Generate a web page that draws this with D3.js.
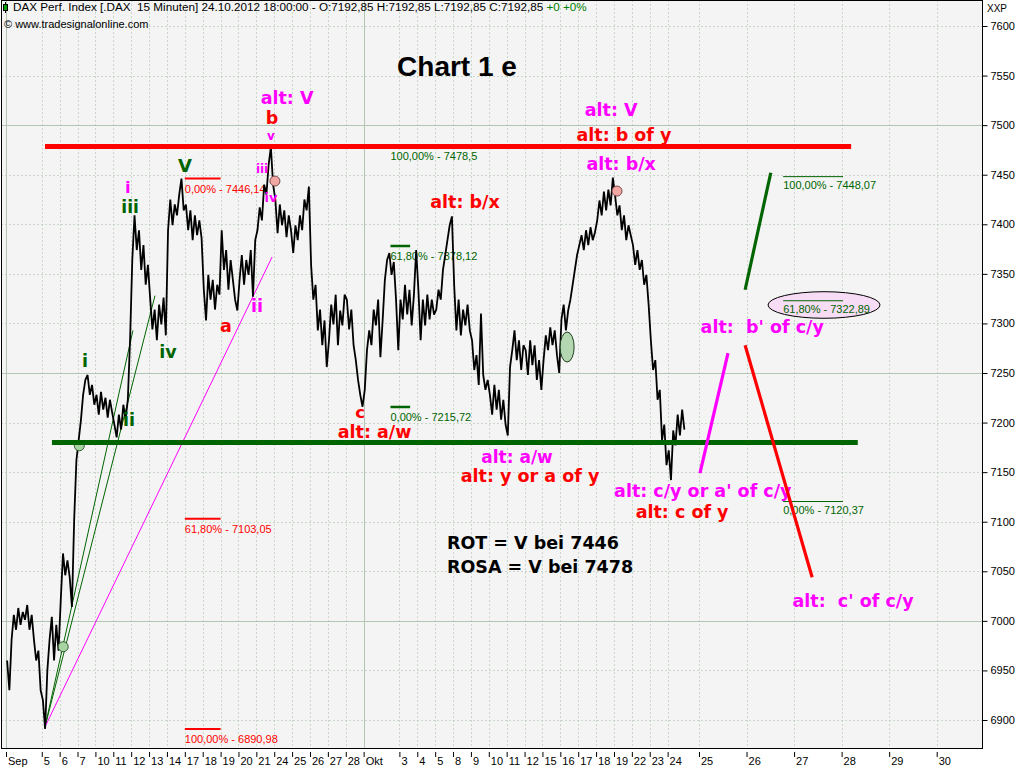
<!DOCTYPE html>
<html><head><meta charset="utf-8">
<script src="https://cdn.jsdelivr.net/npm/d3@7/dist/d3.min.js"></script>
<style>body{margin:0;background:#fff;}svg{display:block}</style>
</head><body><svg id="c" width="1024" height="768"></svg>
<script>
// ---------- data ----------
const tickLabels = ["Sep","5","6","7","10","11","12","13","14","17","18","19","20","21","24","25","26","27","28","Okt","3","4","5","8","9","10","11","12","15","16","17","18","19","22","23","24","25","26","27","28","29","30"];
const tickIndex  = [-2,0,1,2,3,4,5,6,7,8,9,10,11,12,13,14,15,16,17,18,20,21,22,23,24,25,26,27,28,29,30,31,32,33,34,35,37,38,39,40,41,42];
const monthStarts = [-2, 18];
const yTicks = [6900,6950,7000,7050,7100,7150,7200,7250,7300,7350,7400,7450,7500,7550,7600];
const yMajor = [7000,7250,7500];

// trading-day index of each session (Sep 3 = -2 ... Oct 24 = 35)
const sessionIndex = [-2,-1,0,1,2,3,4,5,6,7,8,9,10,11,12,13,14,15,16,17,18,19,20,21,22,23,24,25,26,27,28,29,30,31,32,33,34,35];
// intraday swing prices per session
const sessionPrices = [
 [6960,6930,6981,7006,6991,7013,6996,7009],
 [7001,7016,6991,7006,6981,6960,6970,6930],
 [6920,6891,6950,6981,7004,6960,6996,6970],
 [7021,7068,7046,7061,7044,7014,7102,7162],
 [7182,7202,7228,7243,7248,7228,7238,7218],
 [7228,7208,7231,7213,7225,7205,7223,7210],
 [7198,7185,7208,7193,7218,7203,7223,7283],
 [7364,7409,7374,7394,7354,7379,7339,7359],
 [7325,7294,7314,7283,7319,7299,7326,7288],
 [7394,7425,7399,7420,7409,7430,7446,7414],
 [7420,7394,7414,7384,7409,7389,7404,7386],
 [7334,7303,7349,7324,7344,7314,7339,7329],
 [7394,7354,7374,7334,7364,7344,7324,7313],
 [7344,7369,7339,7364,7349,7374,7327,7384],
 [7394,7417,7404,7440,7430,7460,7478,7440],
 [7425,7391,7420,7399,7414,7387,7409,7394],
 [7371,7399,7384,7409,7394,7425,7414,7438],
 [7359,7324,7339,7293,7314,7278,7303,7256],
 [7283,7319,7299,7329,7278,7313,7298,7329],
 [7324,7294,7314,7278,7263,7243,7228,7216],
 [7233,7273,7293,7278,7314,7298,7324,7266],
 [7303,7344,7364,7371,7349,7362,7324,7273],
 [7324,7304,7339,7309,7334,7298,7329,7374],
 [7334,7283,7324,7298,7329,7304,7324,7309],
 [7314,7334,7324,7354,7369,7384,7399,7408],
 [7339,7293,7324,7288,7314,7298,7319,7293],
 [7283,7253,7268,7238,7310,7248,7233,7243],
 [7228,7208,7238,7213,7233,7203,7223,7198],
 [7187,7256,7273,7293,7263,7283,7253,7278],
 [7273,7248,7283,7258,7278,7243,7263,7233],
 [7263,7288,7273,7296,7278,7293,7268,7250],
 [7304,7319,7293,7313,7324,7339,7354,7369],
 [7379,7389,7374,7394,7379,7397,7384,7392],
 [7404,7424,7409,7433,7414,7435,7419,7447],
 [7429,7409,7419,7394,7409,7384,7399,7389],
 [7379,7359,7374,7354,7364,7339,7349,7319],
 [7283,7253,7263,7223,7233,7182,7198,7157],
 [7172,7142,7192,7177,7208,7187,7213,7192.85]
];

// Fibonacci markers
const fibRedLevels = [7446.14, 7103.05, 6890.98];
const fibRedPct = ["0,00%","61,80%","100,00%"];
const fibRedSpan = [8.0, 10.0];
const fibMidLevels = [7478.5, 7378.12, 7215.72];
const fibMidPct = ["100,00%","61,80%","0,00%"];
const fibMidSpan = [19.5, 20.6];
const fibRightLevels = [7448.07, 7322.89, 7120.37];
const fibRightPct = ["100,00%","61,80%","0,00%"];
const fibRightSpan = [38.77, 40.03];

// horizontal support / resistance: [price, fromIdx, toIdx, color]
const hLines = [[7478.5, 0.18, 40.20, "#ff0000"], [7180, 0.57, 40.34, "#006400"]];
// trend lines: [idx1, p1, idx2, p2, color, width]
const trendLines = [
 [0.18, 6893, 5.10, 7293, "#006400", 1],
 [0.18, 6893, 6.33, 7328, "#006400", 1],
 [0.18, 6893, 12.88, 7367, "#ff00ff", 1],
 [37.02, 7149, 37.61, 7270, "#ff00ff", 3.2],
 [37.97, 7278, 39.38, 7044, "#ff0000", 3.2],
 [37.97, 7334, 38.51, 7452, "#006400", 3.2]
];
// markers: [idx, price, rx, ry, fill, stroke]
const markers = [
 [2.10, 7176.6, 5, 5, "#a9d3a2", "#2e5e2e"],
 [1.20, 6973.9, 5, 5, "#a9d3a2", "#2e5e2e"],
 [13.04, 7443.6, 5, 5, "#f1a7a4", "#7a4a4a"],
 [32.17, 7433.5, 5, 5, "#f1a7a4", "#7a4a4a"],
 [29.38, 7276.2, 7, 15, "#b3d7b0", "#1e3e1e"],
 [39.63, 7318.6, 56, 13.3, "#f6dcf4", "#000000"]
];
// annotations: [text, idx, price, color, size, anchor]
const M = "#ff00ff", Rd = "#ff0000", G = "#006400", K = "#000000";
const notes = [
 ["alt: V", 13.72, 7521, M, 17.5, "middle"],
 ["b", 12.88, 7501, Rd, 17.5, "middle"],
 ["v", 12.82, 7485, M, 12, "middle"],
 ["iii", 12.32, 7452, M, 12, "middle"],
 ["iv", 12.82, 7422.5, M, 13, "middle"],
 ["V", 8.01, 7452.7, G, 18, "middle"],
 ["i", 4.82, 7432, M, 16.5, "middle"],
 ["iii", 4.94, 7411, G, 17, "middle"],
 ["a", 10.30, 7291.3, Rd, 17.5, "middle"],
 ["ii", 12.04, 7311.5, M, 17.5, "middle"],
 ["iv", 7.06, 7265.1, G, 17.5, "middle"],
 ["i", 2.42, 7256, G, 17.5, "middle"],
 ["ii", 4.88, 7196.5, G, 17.5, "middle"],
 ["c", 17.80, 7205, Rd, 16.5, "middle"],
 ["alt: a/w", 18.61, 7184, Rd, 17.5, "middle"],
 ["alt: b/x", 23.67, 7416.4, Rd, 17.5, "middle"],
 ["alt: V", 31.84, 7509.2, M, 17.5, "middle"],
 ["alt: b of y", 32.56, 7484, Rd, 17.5, "middle"],
 ["alt: b/x", 32.40, 7454.7, M, 17.5, "middle"],
 ["alt: a/w", 26.58, 7159, M, 17, "middle"],
 ["alt: y or a of y", 27.31, 7140, Rd, 17.5, "middle"],
 ["alt: c/y or a' of c/y", 37.08, 7124.9, M, 17.5, "middle"],
 ["alt: c of y", 35.81, 7103.7, Rd, 17.5, "middle"],
 ["alt:  b' of c/y", 38.33, 7290.3, M, 17.5, "middle"],
 ["alt:  c' of c/y", 40.24, 7014, M, 17.5, "middle"],
 ["ROT = V bei 7446", 22.66, 7072.5, K, 17.5, "start"],
 ["ROSA = V bei 7478", 22.66, 7048.2, K, 17.5, "start"]
];

// ---------- drawing ----------
const L = 1.5, R = 982.5, T = 0.5, B = 748.5;
const x = d3.scaleLinear().domain([-2, 36, 37, 42]).range([6, 685.5, 699, 936.7]);
const y = d3.scaleLinear().domain([6900, 7600]).range([720, 26]);
const svg = d3.select("#c");
const sans = "'Liberation Sans', Arial, sans-serif";
const bold = "'DejaVu Sans', Verdana, sans-serif";

svg.append("defs").append("clipPath").attr("id","clip")
  .append("rect").attr("x",L).attr("y",T).attr("width",R-L).attr("height",B-T);
svg.append("rect").attr("x",L).attr("y",T).attr("width",R-L).attr("height",B-T).attr("fill","#f4f4f4");

const plot = svg.append("g").attr("clip-path","url(#clip)");
plot.selectAll(".hg").data(yTicks).join("line")
  .attr("x1",L).attr("x2",R).attr("y1",d=>Math.round(y(d))+0.5).attr("y2",d=>Math.round(y(d))+0.5)
  .attr("stroke",d=>yMajor.includes(d)?"#b3c6b3":"#a3bba3")
  .attr("stroke-dasharray",d=>yMajor.includes(d)?null:"1,3");
plot.selectAll(".vg").data(tickIndex).join("line")
  .attr("y1",T).attr("y2",B).attr("x1",d=>Math.round(x(d))+0.5).attr("x2",d=>Math.round(x(d))+0.5)
  .attr("stroke",d=>monthStarts.includes(d)?"#b3c6b3":"#a3bba3")
  .attr("stroke-dasharray",d=>monthStarts.includes(d)?null:"1,3");

function fib(levels, pct, span, color, lw, off){
  const g = plot.append("g");
  levels.forEach((v,i)=>{
    g.append("line").attr("x1",x(span[0])).attr("x2",x(span[1])).attr("y1",y(v)).attr("y2",y(v))
      .attr("stroke",color).attr("stroke-width",lw);
    g.append("text").attr("x",x(span[0])).attr("y",y(v)+off)
      .attr("fill",color).attr("font-family",sans).attr("font-size",11)
      .text(pct[i]+" - "+String(v).replace(".",","));
  });
}
markers.slice(5).forEach(m=>{
  plot.append("ellipse").attr("cx",x(m[0])).attr("cy",y(m[1])).attr("rx",m[2]).attr("ry",m[3])
    .attr("fill",m[4]).attr("stroke",m[5]);
});
fib(fibRedLevels, fibRedPct, fibRedSpan, "#ff0000", 2, 14);
fib(fibMidLevels, fibMidPct, fibMidSpan, "#006400", 2.5, 14);
fib(fibRightLevels, fibRightPct, fibRightSpan, "#006400", 1, 12.5);

trendLines.filter(t=>t[5]<2).forEach(t=>{
  plot.append("line").attr("x1",x(t[0])).attr("y1",y(t[1])).attr("x2",x(t[2])).attr("y2",y(t[3]))
    .attr("stroke",t[4]).attr("stroke-width",t[5]);
});

const pts = [];
sessionPrices.forEach((arr,i)=>arr.forEach((p,k)=>pts.push([sessionIndex[i]+(k+0.5)/arr.length, p])));
plot.append("path").datum(pts).attr("fill","none").attr("stroke","#000").attr("stroke-width",1.8)
  .attr("stroke-linejoin","miter").attr("stroke-miterlimit",3)
  .attr("d", d3.line().x(d=>x(d[0])).y(d=>y(d[1])));

markers.slice(0,5).forEach(m=>{
  plot.append("ellipse").attr("cx",x(m[0])).attr("cy",y(m[1])).attr("rx",m[2]).attr("ry",m[3])
    .attr("fill",m[4]).attr("stroke",m[5]);
});

notes.forEach(n=>{
  plot.append("text").attr("x",x(n[1])).attr("y",y(n[2])).attr("fill",n[3])
    .attr("font-family",bold).attr("font-weight","bold").attr("font-size",n[4])
    .attr("text-anchor",n[5]).style("white-space","pre").text(n[0]);
});

hLines.forEach(h=>{
  plot.append("line").attr("x1",x(h[1])).attr("x2",x(h[2])).attr("y1",y(h[0])).attr("y2",y(h[0]))
    .attr("stroke",h[3]).attr("stroke-width",5);
});
trendLines.filter(t=>t[5]>=2).forEach(t=>{
  plot.append("line").attr("x1",x(t[0])).attr("y1",y(t[1])).attr("x2",x(t[2])).attr("y2",y(t[3]))
    .attr("stroke",t[4]).attr("stroke-width",t[5]);
});

plot.append("text").attr("x",457).attr("y",76).attr("text-anchor","middle")
  .attr("font-family",sans).attr("font-weight","bold").attr("font-size",28).text("Chart 1 e");

const hdr = plot.append("text").attr("x",13).attr("y",11).attr("font-family",sans).attr("font-size",11.7)
  .style("white-space","pre");
hdr.append("tspan").attr("fill","#000").text("DAX Perf. Index [.DAX  15 Minuten] 24.10.2012 18:00:00 - O:7192,85 H:7192,85 L:7192,85 C:7192,85 ");
hdr.append("tspan").attr("fill","#008000").text("+0 +0%");
plot.append("line").attr("x1",5.5).attr("x2",5.5).attr("y1",2).attr("y2",13).attr("stroke","#000");
plot.append("rect").attr("x",3.5).attr("y",4.5).attr("width",4).attr("height",6).attr("fill","#00a000").attr("stroke","#000");
plot.append("text").attr("x",4).attr("y",28).attr("font-family",sans).attr("font-size",11)
  .attr("fill","#000").text("© www.tradesignalonline.com");

svg.append("rect").attr("x",L).attr("y",T).attr("width",R-L).attr("height",B-T)
  .attr("fill","none").attr("stroke","#000");

const ya = svg.append("g").attr("transform",`translate(${R},0)`)
  .call(d3.axisRight(y).tickValues(yTicks).tickSize(5).tickPadding(3).tickFormat(d3.format("d")));
ya.select(".domain").remove();
ya.selectAll("text").attr("font-family",sans).attr("font-size",11).attr("fill","#000");
ya.selectAll("line").attr("stroke","#000");
svg.append("text").attr("x",987).attr("y",12).attr("font-family",sans).attr("font-size",10).text("XXP");

const xa = svg.append("g").attr("transform",`translate(0,752)`)
  .call(d3.axisBottom(x).tickValues(tickIndex).tickSize(5).tickFormat((d,i)=>tickLabels[i]));
xa.select(".domain").remove();
xa.selectAll("line").attr("stroke","#000");
xa.selectAll("text").attr("font-family",sans).attr("font-size",11).attr("fill","#000")
  .attr("text-anchor","start").attr("x",1.5).attr("y",13).attr("dy",null);
</script></body></html>
